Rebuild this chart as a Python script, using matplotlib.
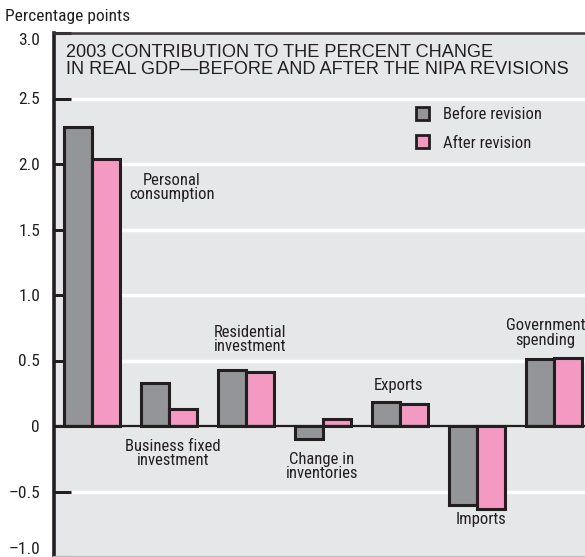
import numpy as np
import matplotlib.pyplot as plt
from matplotlib.patches import Patch

categories = ["Personal\nconsumption", "Business fixed\ninvestment", "Residential\ninvestment",
              "Change in\ninventories", "Exports", "Imports", "Government\nspending"]
before = [2.28, 0.33, 0.43, -0.10, 0.18, -0.60, 0.51]
after = [2.04, 0.13, 0.41, 0.05, 0.17, -0.63, 0.52]

# where each category label sits (x in group units, y in percentage points)
label_pos = [(1.03, 1.82), (1.05, -0.21), (2.05, 0.66), (2.98, -0.31),
             (3.98, 0.31), (5.05, -0.71), (5.89, 0.71)]

yticks = [-1.0, -0.5, 0, 0.5, 1.0, 1.5, 2.0, 2.5, 3.0]
ytick_labels = ["\u20131.0", "\u20130.5", "0", "0.5", "1.0", "1.5", "2.0", "2.5", "3.0"]

narrow = ["Roboto Condensed", "DejaVu Sans"]
wide = ["Liberation Sans", "DejaVu Sans"]

dark = "#231f20"
grey = "#939598"
pink = "#f499c2"
bg = "#e6e7e8"

fig = plt.figure(figsize=(5.85, 5.57), dpi=100)
ax = fig.add_axes([54 / 585, 0, 1 - 54 / 585, 524 / 557])
ax.set_facecolor(bg)

x = np.arange(len(categories))
w = 0.364
ax.bar(x - w / 2, before, w, color=grey, edgecolor=dark, linewidth=2.2, zorder=3)
ax.bar(x + w / 2, after, w, color=pink, edgecolor=dark, linewidth=2.2, zorder=3)

ax.set_xlim(-0.5, 6.4)
ax.set_ylim(-1, 3)
ax.set_xticks([])
ax.set_yticks(yticks)
ax.set_yticklabels(ytick_labels, fontfamily=narrow, fontsize=12.5, color=dark)
ax.tick_params(axis="y", direction="in", length=12, width=2.2, color=dark, pad=10)
# end labels stay inside the figure
ax.get_yticklabels()[-1].set_va("top")
ax.get_yticklabels()[0].set_va("bottom")

for yv in [-0.5, 0.5, 1.0, 1.5, 2.0, 2.5]:
    ax.axhline(yv, color="white", linewidth=2.5, zorder=1)
ax.axhline(0, color=dark, linewidth=1.6, zorder=4)

ax.spines["left"].set_linewidth(2.6)
ax.spines["left"].set_color(dark)
ax.spines["top"].set_linewidth(1.8)
ax.spines["top"].set_color("#3a3536")
ax.spines["right"].set_visible(False)
ax.spines["bottom"].set_color("#bbbbbb")
ax.spines["bottom"].set_linewidth(1.5)

for name, (lx, ly) in zip(categories, label_pos):
    ax.text(lx, ly, name, ha="center", va="center", fontfamily=narrow,
            fontsize=12, color=dark, linespacing=0.95, zorder=5)

ax.text(0.022, 0.979, "2003 CONTRIBUTION TO THE PERCENT CHANGE\nIN REAL GDP\u2014BEFORE AND AFTER THE NIPA REVISIONS",
        transform=ax.transAxes, ha="left", va="top", fontfamily=wide, fontsize=13.1,
        color=dark, linespacing=1.03)

handles = [Patch(facecolor=grey, edgecolor=dark, linewidth=2.0, label="Before revision"),
           Patch(facecolor=pink, edgecolor=dark, linewidth=2.0, label="After revision")]
ax.legend(handles=handles, loc="upper left", bbox_to_anchor=(0.681, 0.859),
          frameon=False, borderpad=0, borderaxespad=0, handlelength=0.8,
          handleheight=0.8, handletextpad=0.85, labelspacing=0.8,
          prop={"family": narrow, "size": 12}, labelcolor=dark)

fig.text(5 / 585, 1 - 17 / 557, "Percentage points", ha="left", va="center",
         fontfamily=narrow, fontsize=12.5, color=dark)

fig.savefig("out.png", dpi=100, facecolor="white")
